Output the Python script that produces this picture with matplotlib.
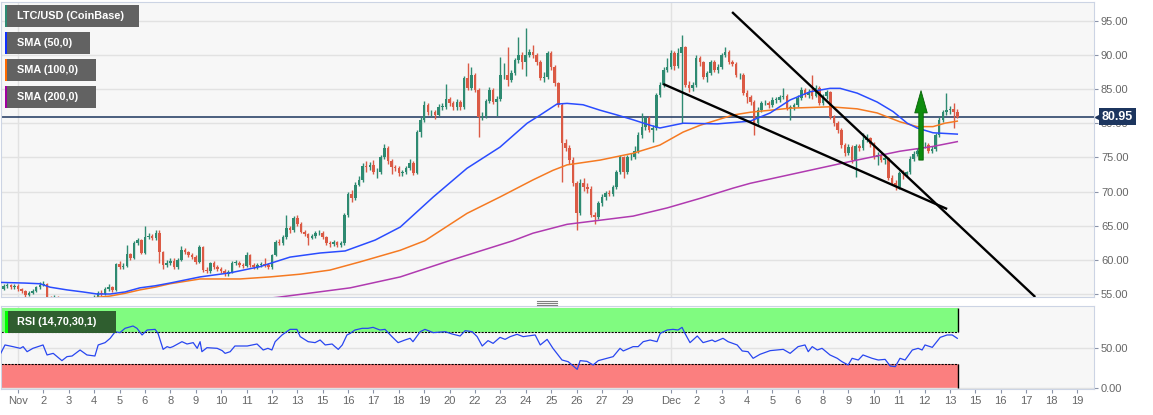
import numpy as np
import pandas as pd
import matplotlib
matplotlib.use("Agg")
import matplotlib.pyplot as plt
import matplotlib.transforms as mtransforms
from matplotlib.patches import Rectangle
from matplotlib.lines import Line2D
from matplotlib.ticker import FormatStrFormatter

plt.rcParams['font.family'] = ['Liberation Sans', 'DejaVu Sans']

W, H = 1153, 415

# LTC/USD 4h candles, first one at 2020-10-31 08:00 (open of each bar = previous close)
first_bar = "2020-10-31 08:00"
first_open = 55.8
closes = [
    56.1, 56.3, 56.0, 56.2,
    55.7, 55.4, 54.9, 55.2, 55.5, 56.0,   # Nov 1
    56.3, 56.5, 54.4, 54.2, 54.5, 54.0,
    53.5, 53.8, 53.2, 53.6, 53.9, 54.0,
    54.1, 54.4, 54.2, 54.6, 55.1, 55.0,
    55.8, 56.0, 55.6, 59.4, 59.0, 59.1,   # Nov 5
    60.8, 60.3, 62.5, 62.9, 61.0, 63.3,
    63.5, 63.2, 64.0, 61.1, 59.3, 59.6,
    59.9, 58.9, 60.0, 61.4, 61.1, 60.7,
    60.4, 59.7, 61.9, 58.5, 58.4, 59.5,
    58.9, 58.6, 58.3, 57.9, 58.2, 59.6,   # Nov 10
    59.6, 59.3, 59.1, 60.7, 59.3, 59.0,
    59.2, 59.4, 59.3, 58.9, 60.7, 62.6,
    62.5, 63.3, 64.6, 64.3, 66.1, 65.3,
    64.1, 63.8, 63.2, 63.5, 63.9, 64.0,
    63.3, 62.5, 62.3, 62.6, 62.2, 62.4,   # Nov 15
    66.5, 69.6, 69.0, 71.0, 71.7, 73.8,
    73.6, 73.9, 72.8, 72.8, 75.0, 76.4,
    74.4, 73.6, 73.4, 72.7, 72.8, 73.4,
    74.2, 72.7, 78.7, 80.5, 82.7, 81.6,
    81.6, 81.2, 82.4, 82.4, 83.5, 82.9,   # Nov 20
    82.4, 83.1, 82.3, 86.6, 85.2, 87.0,
    84.9, 80.9, 81.0, 83.3, 84.9, 83.1,
    83.5, 87.0, 87.0, 86.3, 87.3, 89.2,
    90.0, 89.0, 90.0, 90.4, 90.0, 89.0,
    86.6, 86.8, 90.3, 88.2, 85.9, 82.7,   # Nov 25
    77.1, 76.4, 74.6, 71.2, 66.8, 71.2,
    70.6, 70.4, 66.6, 66.3, 68.3, 69.2,
    69.8, 69.7, 70.6, 72.8, 75.0, 72.8,
    75.0, 75.1, 76.0, 78.3, 79.4, 80.7,
    79.0, 79.3, 84.1, 85.6, 87.8, 88.2,   # Nov 30
    90.3, 88.4, 90.3, 91.1, 85.6, 85.1,   # Dec 1
    85.6, 89.5, 88.9, 86.8, 87.3, 88.9,
    87.8, 88.2, 90.0, 90.4, 88.9, 88.7,
    87.0, 87.0, 84.4, 83.8, 83.1, 80.0,
    81.9, 82.9, 83.0, 82.6, 83.4, 83.4,   # Dec 5
    83.8, 84.0, 82.2, 82.3, 82.6, 83.7,
    84.9, 84.1, 84.6, 84.0, 85.2, 83.0,
    84.0, 84.5, 80.9, 80.0, 79.0, 76.8,
    75.6, 76.5, 74.6, 76.7, 76.3, 77.5,
    77.8, 76.9, 75.1, 75.3, 74.6, 74.9,   # Dec 10
    72.0, 71.3, 70.6, 72.7, 72.6, 72.8,
    74.8, 75.5, 76.0, 76.8, 76.8, 76.0,
    76.2, 78.3, 80.5, 81.6, 81.9, 82.1,
    81.6, 80.95,
]
highs = [
    56.4, 56.6, 56.5, 56.5,
    56.4, 55.9, 55.6, 55.4, 55.7, 56.2,
    56.8, 56.9, 56.6, 54.7, 54.8, 54.7,
    54.2, 54.0, 54.0, 53.8, 54.1, 54.3,
    54.4, 54.6, 54.6, 54.9, 55.4, 55.6,
    56.0, 56.5, 56.2, 59.6, 59.8, 59.6,
    62.2, 61.0, 62.8, 63.2, 63.0, 65.0,
    64.0, 63.8, 64.4, 64.3, 61.3, 60.0,
    60.3, 60.2, 60.3, 62.0, 61.7, 61.3,
    61.0, 60.7, 62.2, 62.0, 58.9, 59.7,
    59.8, 59.2, 58.9, 58.6, 58.5, 59.9,
    60.0, 59.9, 59.6, 61.1, 60.9, 59.6,
    59.5, 59.7, 60.3, 59.6, 60.9, 62.9,
    63.0, 63.6, 66.5, 65.0, 66.4, 66.5,
    65.5, 64.4, 64.0, 63.8, 64.2, 64.3,
    64.2, 63.5, 62.8, 62.9, 62.8, 62.7,
    66.8, 70.0, 70.2, 71.4, 72.3, 74.2,
    74.5, 74.3, 74.6, 73.5, 75.4, 77.0,
    76.7, 74.7, 73.9, 73.7, 73.2, 73.8,
    74.8, 74.5, 79.0, 80.9, 83.2, 83.0,
    82.0, 81.9, 82.8, 82.9, 85.7, 83.8,
    83.2, 83.5, 83.4, 86.9, 88.8, 88.2,
    87.3, 85.2, 81.6, 83.6, 85.3, 85.1,
    84.0, 89.7, 88.8, 91.2, 87.8, 89.6,
    92.6, 90.4, 94.0, 90.8, 91.4, 90.3,
    89.3, 87.5, 90.5, 90.5, 88.5, 86.1,
    83.0, 77.7, 76.8, 75.0, 71.6, 71.8,
    72.0, 71.3, 70.8, 67.0, 68.6, 69.6,
    70.1, 70.2, 71.0, 73.2, 75.4, 75.2,
    75.4, 75.6, 76.7, 78.7, 81.5, 81.0,
    81.0, 79.7, 84.4, 86.0, 88.2, 89.6,
    90.7, 90.5, 91.0, 92.9, 91.3, 86.2,
    86.0, 90.0, 89.8, 89.1, 87.7, 89.3,
    89.2, 88.6, 90.3, 91.1, 90.7, 89.2,
    89.0, 87.4, 87.3, 84.8, 84.2, 83.4,
    82.3, 83.3, 83.4, 83.3, 83.8, 83.9,
    84.2, 85.2, 84.3, 82.6, 83.0, 84.1,
    85.3, 85.1, 85.0, 87.0, 85.6, 85.4,
    84.3, 84.9, 84.7, 81.2, 80.3, 79.3,
    77.1, 76.9, 76.8, 77.0, 77.0, 78.5,
    78.4, 78.0, 77.2, 75.8, 75.6, 75.2,
    75.1, 72.4, 71.7, 73.0, 73.2, 73.0,
    75.2, 75.9, 76.4, 77.1, 77.2, 77.1,
    76.6, 78.6, 80.9, 81.9, 84.4, 82.5,
    83.0, 82.1,
]
lows = [
    55.6, 55.9, 55.8, 55.8,
    55.5, 55.1, 54.6, 54.7, 55.0, 55.3,
    55.8, 56.1, 54.2, 53.9, 54.0, 53.8,
    53.3, 53.3, 53.0, 53.0, 53.4, 53.7,
    53.8, 53.9, 54.0, 54.0, 54.4, 54.7,
    54.8, 55.5, 55.3, 55.4, 58.7, 58.6,
    58.9, 60.0, 60.1, 62.2, 60.8, 60.9,
    63.0, 62.9, 62.9, 59.6, 58.6, 58.9,
    59.2, 58.6, 58.7, 59.8, 60.8, 60.4,
    60.1, 59.4, 59.5, 58.2, 58.0, 58.1,
    58.7, 58.3, 58.0, 57.6, 57.6, 58.0,
    59.2, 59.0, 58.8, 58.9, 59.0, 58.7,
    58.7, 58.9, 59.0, 58.6, 58.7, 60.5,
    62.1, 62.2, 63.1, 64.0, 64.1, 65.0,
    63.9, 63.5, 62.2, 63.0, 63.2, 63.6,
    63.0, 62.2, 61.9, 62.0, 61.9, 61.9,
    62.2, 66.2, 68.5, 68.8, 70.8, 71.4,
    72.9, 73.2, 72.5, 72.0, 72.5, 74.8,
    74.1, 72.5, 73.0, 72.3, 72.2, 72.5,
    73.1, 72.4, 72.5, 78.0, 80.2, 81.2,
    81.1, 80.6, 81.0, 81.9, 82.1, 82.5,
    82.0, 81.9, 82.0, 82.1, 84.9, 84.9,
    84.5, 78.0, 80.5, 80.8, 83.0, 82.8,
    81.0, 83.2, 86.4, 85.4, 86.0, 87.0,
    88.8, 88.0, 86.9, 89.7, 89.5, 88.5,
    86.3, 86.0, 86.5, 87.8, 85.5, 82.4,
    71.4, 75.9, 74.0, 70.8, 64.4, 66.5,
    70.1, 69.8, 66.2, 65.3, 66.0, 67.9,
    68.8, 69.3, 69.4, 70.4, 72.5, 72.0,
    72.5, 74.6, 74.8, 75.7, 77.9, 79.0,
    78.7, 77.3, 79.0, 83.8, 85.3, 87.5,
    87.9, 87.8, 88.1, 80.0, 85.3, 84.6,
    84.7, 85.3, 88.4, 86.4, 86.0, 87.1,
    87.5, 87.3, 88.0, 89.7, 88.6, 88.4,
    86.7, 86.5, 84.1, 83.0, 82.7, 78.2,
    79.6, 81.6, 82.6, 82.2, 82.3, 83.0,
    83.1, 83.5, 81.9, 80.5, 82.0, 82.4,
    83.4, 83.8, 83.7, 83.6, 83.8, 82.6,
    82.7, 83.6, 80.6, 79.6, 78.5, 76.4,
    75.2, 75.3, 74.2, 72.1, 76.0, 76.1,
    77.2, 76.5, 74.8, 73.9, 74.3, 74.0,
    71.7, 70.9, 70.2, 70.4, 71.9, 72.2,
    72.6, 74.5, 75.2, 75.7, 76.4, 75.7,
    75.6, 76.0, 78.0, 80.2, 81.2, 81.4,
    79.3, 80.7,
]
last_price = 80.95

# moving averages: (bar number, price), bar 0 = Nov 1 00:00
sma50_bar = [-5.0, 1.9, 6.1, 8.8, 13.5, 17.9, 21.8, 25.4, 29.5, 33.6, 37.8, 41.9,
             50.2, 58.5, 66.7, 75.0, 83.3, 90.2, 98.5, 105.4, 114.5, 123.8, 132.9,
             140.4, 144.0, 148.6, 151.4, 155.8, 160.5, 165.2, 169.6, 174.3, 177.0,
             183.4, 192.8, 201.9, 207.4, 212.9, 218.4, 223.9, 226.7, 231.4, 236.9,
             241.3, 245.2, 247.9, 252.3, 259.0]
sma50_val = [56.7, 56.6, 56.5, 56.0, 55.6, 55.3, 55.0, 55.0, 55.3, 55.9, 56.2, 56.6,
             57.5, 58.1, 59.0, 60.4, 61.0, 61.3, 62.9, 64.8, 69.2, 73.4, 76.5,
             80.0, 81.2, 82.8, 82.9, 82.7, 81.9, 81.2, 80.5, 79.7, 79.3,
             80.0, 79.9, 80.3, 81.5, 83.4, 84.6, 85.1, 85.1, 84.4, 83.1,
             81.7, 80.0, 79.3, 78.6, 78.4]
sma100_bar = [11.6, 21.8, 25.4, 29.5, 33.6, 37.8, 41.9, 50.2, 61.2, 69.5, 77.8, 86.0,
              94.3, 105.4, 112.2, 123.8, 132.9, 142.0, 147.5, 151.4, 160.5, 169.6,
              177.0, 183.4, 188.1, 197.2, 201.9, 212.9, 223.9, 231.4, 236.9, 243.2,
              247.9, 252.3, 255.6, 259.0]
sma100_val = [53.8, 54.5, 54.7, 55.1, 55.6, 56.0, 56.5, 57.2, 57.2, 57.5, 57.9, 58.5,
              59.7, 61.4, 62.8, 66.8, 69.2, 71.7, 73.1, 73.9, 74.6, 75.6,
              76.8, 78.7, 79.7, 81.2, 81.6, 82.2, 82.4, 82.1, 81.5, 80.2,
              79.5, 79.5, 80.0, 80.3]
sma200_bar = [58.5, 71.4, 91.6, 105.4, 119.1, 136.5, 142.0, 151.4, 160.5, 169.6,
              179.0, 188.1, 197.2, 201.9, 215.7, 229.5, 243.2, 252.3, 259.0]
sma200_val = [53.9, 54.5, 55.9, 57.5, 59.9, 62.8, 63.9, 65.2, 65.8, 66.4,
              67.6, 69.0, 70.5, 71.2, 72.8, 74.4, 75.9, 76.6, 77.3]

# RSI (14)
rsi_bar = [-5.0, -3.6, -1.4, 0.6, 1.4, 2.5, 4.1, 6.9, 8.0, 9.7, 12.1, 13.5, 14.9, 17.1,
           19.0, 21.2, 22.1, 24.0, 25.4, 26.8, 28.1, 29.5, 31.7, 32.8, 34.2, 35.6,
           37.8, 38.6, 40.0, 41.1, 41.9, 42.7, 45.2, 46.6, 48.3, 49.4, 50.2, 50.7,
           52.1, 54.9, 56.3, 57.1, 58.5, 59.8, 63.2, 65.9, 67.6, 68.9, 70.0, 70.9,
           72.8, 75.0, 76.9, 77.8, 80.0, 81.9, 83.3, 84.7, 86.6, 87.4, 88.3, 89.4,
           90.7, 91.6, 92.9, 94.9, 96.5, 97.9,
           99.8, 101.2, 103.1, 104.8, 106.7, 108.1, 108.9, 110.9, 112.2, 114.5,
           117.8, 119.7, 121.9, 123.3, 125.2, 126.6, 128.0, 129.6, 131.0, 132.9,
           134.3, 135.7, 137.6, 139.3, 142.6, 144.0, 145.9, 147.5, 150.0, 151.7,
           154.2, 155.0, 156.9, 158.6, 160.0, 162.4, 164.1, 166.0, 166.9, 169.6,
           171.0, 172.4, 174.3, 176.2, 177.1, 179.0, 180.6, 182.0, 183.1, 183.9,
           185.3, 187.3, 188.9, 191.4, 192.2, 194.4, 195.8, 198.3, 199.7, 201.3,
           202.7, 204.6, 207.4, 211.0, 212.9, 215.1, 217.0, 217.9, 219.0, 220.4,
           221.7, 223.9, 225.9, 227.2, 228.9, 230.0, 231.7, 233.0, 235.5, 237.2,
           239.1, 240.5, 241.9, 243.2, 244.6, 246.6, 248.2, 249.3, 250.1, 252.1,
           254.3, 256.2, 257.6, 259.0]
rsi_val = [41.3, 53.8, 51.7, 49.6, 51.7, 45.4, 49.6, 53.8, 41.3, 43.3, 34.2, 39.2, 40.0, 47.5,
           41.3, 40.0, 53.8, 56.7, 62.1, 70.4, 69.2, 74.6, 77.5, 74.6, 66.3, 72.5,
           73.3, 68.3, 48.3, 51.7, 50.4, 51.7, 57.9, 55.0, 56.7, 49.6, 57.9, 45.4,
           50.4, 49.6, 46.7, 43.3, 45.4, 52.5, 52.5, 55.0, 47.5, 49.6, 47.5, 57.9,
           66.3, 73.3, 73.3, 64.2, 57.9, 56.7, 60.0, 53.8, 55.0, 51.7, 48.3, 53.8,
           66.3, 68.3, 72.5, 74.6, 74.6, 75.8,
           72.5, 73.3, 64.2, 56.7, 60.0, 62.1, 57.9, 70.4, 73.3, 69.2,
           70.4, 67.5, 65.0, 71.7, 70.4, 64.2, 52.5, 59.2, 55.8, 63.3,
           60.8, 64.2, 67.1, 64.2, 66.3, 53.8, 60.8, 49.6, 35.0, 32.9,
           23.3, 34.2, 33.3, 28.8, 34.2, 37.1, 39.2, 49.6, 46.3, 51.7,
           51.7, 57.9, 60.0, 57.9, 68.3, 72.5, 73.3, 72.5, 75.8, 68.3,
           56.7, 65.0, 56.7, 60.0, 57.9, 62.1, 57.9, 53.8, 46.3, 45.4,
           37.1, 42.1, 46.7, 48.3, 43.3, 51.7, 53.8, 45.4, 51.7, 47.5,
           49.6, 41.3, 37.1, 32.9, 28.8, 37.1, 35.0, 41.3, 37.1, 35.0,
           35.8, 27.5, 26.7, 37.1, 35.0, 47.5, 49.6, 47.5, 53.8, 50.8,
           63.3, 66.3, 66.3, 62.1]
rsi_upper, rsi_lower = 70, 30

# drawn annotations: falling wedge lines and breakout arrow (bar, price)
wedge_upper = ([196.9, 280.5], [96.27, 54.56])
wedge_lower = ([177.9, 256.2], [85.74, 67.44])
arrow_bar, arrow_from, arrow_to = 249.0, 74.6, 84.76

legend_items = [("LTC/USD (CoinBase)", "#2e8b74"), ("SMA (50,0)", "#1030ff"),
                ("SMA (100,0)", "#ff6a00"), ("SMA (200,0)", "#a000a0")]

GREEN, RED = "#2e8a71", "#db5a45"
C50, C100, C200 = "#2a4cff", "#f57a22", "#b03ab0"
NAVY = "#1c355e"
GRID = "#e2e2e2"
SPINE = "#ccd4e4"
TXT = "#666666"

origin = pd.Timestamp("2020-11-01 00:00")
step = pd.Timedelta(hours=4)
times = pd.date_range(first_bar, periods=len(closes), freq="4h")
x = np.asarray((times - origin) / step, dtype=float)

nov_ticks = pd.date_range("2020-11-01", "2020-11-29 23:00", freq="28h")
dec_ticks = pd.date_range("2020-12-01", "2020-12-19 23:00", freq="28h")
tick_times = nov_ticks.append(dec_ticks)
tick_pos = np.asarray((tick_times - origin) / step, dtype=float)
tick_lab = [t.strftime("%b") if t.day == 1 else str(t.day) for t in tick_times]
month_pos = [tick_pos[0], tick_pos[len(nov_ticks)]]


def px_rect(l, t, r, b):
    return [l / W, 1 - b / H, (r - l) / W, (b - t) / H]


fig = plt.figure(figsize=(W / 100, H / 100), dpi=100)
ax = fig.add_axes(px_rect(1, 2, 1094, 297))
rsi = fig.add_axes(px_rect(1, 306, 1094, 389))
xlim = (-4.7, 296.7)

for a in (ax, rsi):
    a.set_facecolor("#f7f7f7")
    for s in a.spines.values():
        s.set_color(SPINE)
    a.set_xlim(*xlim)
    a.yaxis.tick_right()
    a.tick_params(axis="y", length=3, color="#8a93a8", labelcolor=TXT,
                  labelsize=8, pad=2)
    a.yaxis.set_major_formatter(FormatStrFormatter("%.2f"))
    for m in month_pos:
        a.axvline(m, color=GRID, lw=1, zorder=0)

# price panel
ax.set_ylim(54.56, 97.74)
ax.set_yticks(np.arange(55, 96, 5))
ax.grid(axis="y", color=GRID, lw=1, zorder=0)
ax.set_axisbelow(True)
ax.set_xticks([])

c = np.asarray(closes)
o = np.r_[first_open, c[:-1]]
col = np.where(c >= o, GREEN, RED)
ax.vlines(x, lows, highs, colors=col, lw=1, zorder=3)
ax.bar(x, np.maximum(np.abs(c - o), 0.08), bottom=np.minimum(o, c), width=0.7,
       color=col, zorder=3)

ax.plot(sma200_bar, sma200_val, color=C200, lw=1.1, zorder=4)
ax.plot(sma100_bar, sma100_val, color=C100, lw=1.1, zorder=4)
ax.plot(sma50_bar, sma50_val, color=C50, lw=1.1, zorder=4)

ax.axhline(last_price, color=NAVY, lw=1.1, zorder=2.5)

ax.plot(*wedge_upper, color="black", lw=1.7, zorder=5, solid_capstyle="butt")
ax.plot(*wedge_lower, color="black", lw=1.7, zorder=5, solid_capstyle="butt")

ax.annotate("", xy=(arrow_bar, arrow_to), xytext=(arrow_bar, arrow_from),
            arrowprops=dict(width=3.2, headwidth=9, headlength=16, shrink=0,
                            facecolor="#0e8c0e", edgecolor="#056005", lw=0.6),
            zorder=6)

# last price label on the axis (covers the 80.00 tick like the original)
blend = mtransforms.blended_transform_factory(ax.transAxes, ax.transData)
ax.annotate(f"{last_price:.2f}", xy=(1.0, last_price), xycoords=blend,
            xytext=(8, 0), textcoords="offset pixels", ha="left", va="center",
            color="white", fontsize=9, fontweight="bold", annotation_clip=False,
            bbox=dict(boxstyle="square,pad=0.22", fc=NAVY, ec="none"), zorder=10)
ax.plot([1.0], [last_price], marker="<", ms=5, color=NAVY, clip_on=False,
        transform=mtransforms.offset_copy(blend, fig=fig, x=4, y=0, units="dots"),
        zorder=10)

# RSI panel
rsi.set_ylim(-1.25, 102.5)
rsi.set_yticks([0, 50])
rsi.grid(axis="y", color=GRID, lw=1, zorder=0)
band_end = x[-1] + 0.2
rsi.add_patch(Rectangle((xlim[0], rsi_upper), band_end - xlim[0], 100 - rsi_upper,
                        fc="#80fb80", ec="none", zorder=1))
rsi.add_patch(Rectangle((xlim[0], 0), band_end - xlim[0], rsi_lower,
                        fc="#fb7f7f", ec="none", zorder=1))
rsi.hlines([rsi_upper, rsi_lower], xlim[0], band_end, colors="black", lw=0.8,
           linestyles=(0, (2, 1)), zorder=2)
rsi.vlines(band_end, rsi_upper, 100, colors="black", lw=1, zorder=2)
rsi.vlines(band_end, 0, rsi_lower, colors="black", lw=1, zorder=2)
rsi.plot(rsi_bar, rsi_val, color="#2846f0", lw=0.9, zorder=3)

rsi.set_xticks(tick_pos)
rsi.set_xticklabels(tick_lab)
rsi.tick_params(axis="x", length=3, color="#8a93a8", labelcolor=TXT, labelsize=8, pad=2)

# legend tags over the chart (figure pixels)
def tag(text, color, top, width, fc, strip=2):
    fig.add_artist(Rectangle((5 / W, 1 - (top + 22) / H), width / W, 22 / H,
                             transform=fig.transFigure, fc=fc, ec="none", zorder=20))
    fig.add_artist(Rectangle((5 / W, 1 - (top + 22) / H), strip / W, 22 / H,
                             transform=fig.transFigure, fc=color, ec="none", zorder=21))
    fig.text(17 / W, 1 - (top + 11) / H, text, color="white", fontsize=7.8,
             fontweight="bold", va="center", ha="left", zorder=22)


tag_widths = [134, 85, 91, 91]
for i, (name, color) in enumerate(legend_items):
    tag(name, color, 5 + 27 * i, tag_widths[i], "#626262")
tag("RSI (14,70,30,1)", "#00ff00", 311, 111, "#2f5e2f", strip=3)

# splitter handle between the panels
for yy in (300.7, 302.7, 304.7):
    fig.add_artist(Line2D([537 / W, 557 / W], [1 - yy / H] * 2, transform=fig.transFigure,
                          color="#808080", lw=0.8))

fig.savefig("out.png", dpi=100, facecolor="white")
